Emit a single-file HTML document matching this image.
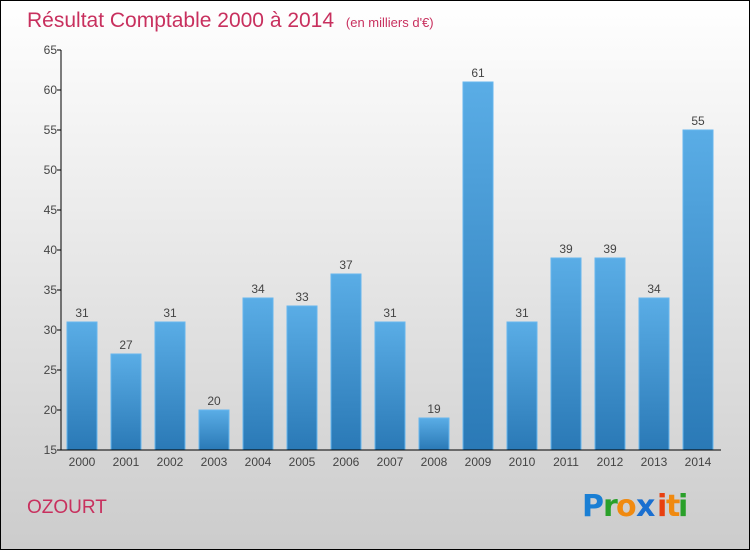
<!DOCTYPE html>
<html><head><meta charset="utf-8"><style>
html,body{margin:0;padding:0}
body{width:750px;height:550px;overflow:hidden}
</style></head><body>
<svg id="chart" width="750" height="550" xmlns="http://www.w3.org/2000/svg" font-family="'Liberation Sans', sans-serif">
<defs>
<linearGradient id="bg" x1="0" y1="0" x2="0" y2="1"><stop offset="0" stop-color="#ffffff"/><stop offset="1" stop-color="#cccccc"/></linearGradient>
<linearGradient id="bar" x1="0" y1="0" x2="0" y2="1"><stop offset="0" stop-color="#5aade6"/><stop offset="1" stop-color="#2a79b6"/></linearGradient>
</defs>
<rect x="0.5" y="0.5" width="749" height="549" fill="url(#bg)" stroke="#000" stroke-width="1"/>
<text x="27" y="27" font-size="21" fill="#c8305e">Résultat Comptable 2000 à 2014 <tspan font-size="13" dx="6">(en milliers d'€)</tspan></text>
<g id="bars"></g>
<g id="axes"></g>
<text x="27" y="513" font-size="19" fill="#c8305e">OZOURT</text>
<g font-size="30" font-weight="bold" font-family="'DejaVu Sans', sans-serif">
<text x="582" y="516" fill="#1a7fd4">P</text><text x="603" y="516" fill="#2aa02a">r</text><text x="616" y="516" fill="#f08a10">o</text><text x="636" y="516" fill="#1a6fd0">x</text><text x="657" y="516" fill="#e84010">i</text><text x="666" y="516" fill="#f08a10">t</text><text x="678" y="516" fill="#2aa02a">i</text>
</g>
</svg>
<script>
const categories=["2000","2001","2002","2003","2004","2005","2006","2007","2008","2009","2010","2011","2012","2013","2014"];
const values=[31,27,31,20,34,33,37,31,19,61,31,39,39,34,55];
const yTicks=[15,20,25,30,35,40,45,50,55,60,65];
const NS="http://www.w3.org/2000/svg";
const yMin=15,yMax=65,y0=450,y1=50,axisX=61;
function yScale(v){return y0-(v-yMin)/(yMax-yMin)*(y0-y1);}
function xScale(i){return 82+i*44;}
function mk(t,a,p){const e=document.createElementNS(NS,t);for(const k in a)e.setAttribute(k,a[k]);p.appendChild(e);return e;}
const gb=document.getElementById('bars'),ga=document.getElementById('axes');
values.forEach((v,i)=>{
 const r=mk('rect',{x:xScale(i)-15,y:yScale(v),width:30,height:y0-yScale(v),fill:'url(#bar)',stroke:'#66b6ee','stroke-width':1},gb);
 
 
 const t=mk('text',{x:xScale(i),y:yScale(v)-5,'text-anchor':'middle','font-size':12,fill:'#444'},gb);
 t.textContent=v;
 
 
 const c=mk('text',{x:xScale(i),y:466,'text-anchor':'middle','font-size':12,fill:'#444'},ga);
 c.textContent=categories[i];
 
 
});
const ya=mk('line',{x1:axisX,y1:y1,x2:axisX,y2:y0,stroke:'#000','stroke-width':1},ga);


const xa=mk('line',{x1:axisX,y1:y0,x2:721,y2:y0,stroke:'#000','stroke-width':1},ga);


yTicks.forEach(v=>{
 const tk=mk('line',{x1:axisX-4,y1:yScale(v),x2:axisX,y2:yScale(v),stroke:'#000'},ga);
 
 
 const t=mk('text',{x:axisX-4,y:yScale(v)+4,'text-anchor':'end','font-size':12,fill:'#444'},ga);
 t.textContent=v;
 
 
});
</script>
</body></html>
